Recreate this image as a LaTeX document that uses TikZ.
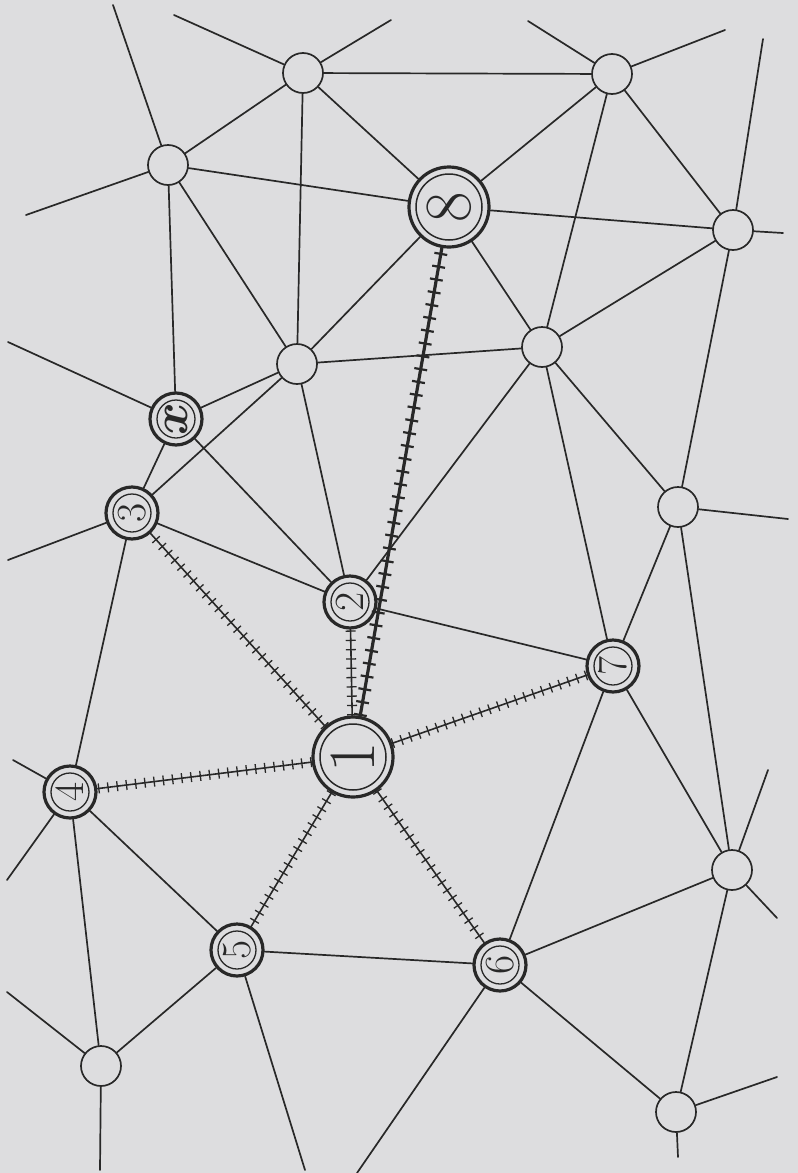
\documentclass[tikz,border=0pt]{standalone}
\usepackage{tikz}
\definecolor{paper}{RGB}{221,221,223}
\definecolor{mo}{RGB}{40,40,40}

\begin{document}
\begin{tikzpicture}[x=.5pt,y=-.5pt,line cap=round,color=mo]
	\tikzstyle{quan}=[circle,draw,fill=paper,line width=.85pt,minimum size=20pt,inner sep=0pt];
	\tikzstyle{huan}=[circle,draw,fill=paper,line width=1.6pt,minimum size=26pt,inner sep=0pt,rotate=90,font=\huge,
		path picture={\draw[line width=.65pt] (path picture bounding box.center) circle (9.5pt);}];
	\tikzstyle{dahuan}=[huan,minimum size=40pt,font=\fontsize{33}{33}\selectfont,
		path picture={\draw[line width=.75pt] (path picture bounding box.center) circle (16.5pt);}];
	\tikzstyle{xian}=[line width=.85pt];
	\tikzstyle{tie}=[line width=.8pt,postaction={draw,line width=5pt,line cap=butt,dash pattern=on .65pt off 4pt}];
	\tikzstyle{datie}=[line width=1.6pt,postaction={draw,line width=6.5pt,line cap=butt,dash pattern=on 1.1pt off 5.4pt}];
	%% paper
	\fill[paper] (0,0) rectangle (798,1173);
	\useasboundingbox (0,0) rectangle (798,1173);
	%% empty points
	\node[quan] (a) at (303,73)   {};
	\node[quan] (b) at (168,165)  {};
	\node[quan] (c) at (612,74)   {};
	\node[quan] (d) at (733,230)  {};
	\node[quan] (e) at (542,347)  {};
	\node[quan] (f) at (297,364)  {};
	\node[quan] (g) at (678,507)  {};
	\node[quan] (h) at (732,870)  {};
	\node[quan] (i) at (101,1066) {};
	\node[quan] (j) at (676,1112) {};
	%% numbered points
	\node[dahuan] (n1) at (353,757) {1};
	\node[dahuan] (n8) at (449,207) {8};
	\node[huan]   (n2) at (350,602) {2};
	\node[huan]   (n3) at (132,513) {3};
	\node[huan]   (n4) at (70,792)  {4};
	\node[huan]   (n5) at (237,950) {5};
	\node[huan]   (n6) at (500,965) {6};
	\node[huan]   (n7) at (613,666) {7};
	\node[huan,font=\fontsize{26}{26}\selectfont\boldmath] (nx) at (176,419) {$x$};
	%% loose ends
	\coordinate (a1)  at (174,15);
	\coordinate (a2)  at (391,20);
	\coordinate (b1)  at (113,5);
	\coordinate (b2)  at (26,215);
	\coordinate (c1)  at (528,21);
	\coordinate (c2)  at (725,30);
	\coordinate (d1)  at (763,39);
	\coordinate (d2)  at (783,233);
	\coordinate (g1)  at (788,519);
	\coordinate (h1)  at (768,770);
	\coordinate (h2)  at (777,918);
	\coordinate (j1)  at (777,1077);
	\coordinate (j2)  at (678,1157);
	\coordinate (i1)  at (7,992);
	\coordinate (i2)  at (100,1170);
	\coordinate (n3a) at (8,560);
	\coordinate (n4a) at (13,760);
	\coordinate (n4b) at (7,880);
	\coordinate (n5a) at (305,1170);
	\coordinate (n6a) at (357,1173);
	\coordinate (nxa) at (8,342);
	%% roads
	\draw[xian] (a)  edge (a1) edge (a2) edge (b) edge (c) edge (f) edge (n8);
	\draw[xian] (b)  edge (b1) edge (b2) edge (n8) edge (nx) edge (f);
	\draw[xian] (c)  edge (c1) edge (c2) edge (n8) edge (d) edge (e);
	\draw[xian] (d)  edge (d1) edge (d2) edge (n8) edge (e) edge (g);
	\draw[xian] (e)  edge (n8) edge (f) edge (n2) edge (n7) edge (g);
	\draw[xian] (f)  edge (n8) edge (nx) edge (n3) edge (n2);
	\draw[xian] (g)  edge (g1) edge (n7) edge (h);
	\draw[xian] (h)  edge (h1) edge (h2) edge (n7) edge (n6) edge (j);
	\draw[xian] (j)  edge (j1) edge (j2) edge (n6);
	\draw[xian] (i)  edge (i1) edge (i2) edge (n4) edge (n5);
	\draw[xian] (nx) edge (nxa) edge (n3) edge (n2);
	\draw[xian] (n3) edge (n3a) edge (n2) edge (n4);
	\draw[xian] (n4) edge (n4a) edge (n4b) edge (n5);
	\draw[xian] (n5) edge (n5a) edge (n6);
	\draw[xian] (n6) edge (n6a) edge (n7);
	\draw[xian] (n2) edge (n7);
	%% railways
	\draw (n1) edge[tie] (n2) edge[tie] (n3) edge[tie] (n4) edge[tie] (n5) edge[tie] (n6) edge[tie] (n7);
	\draw (n1) edge[datie] (n8);
\end{tikzpicture}
\end{document}
